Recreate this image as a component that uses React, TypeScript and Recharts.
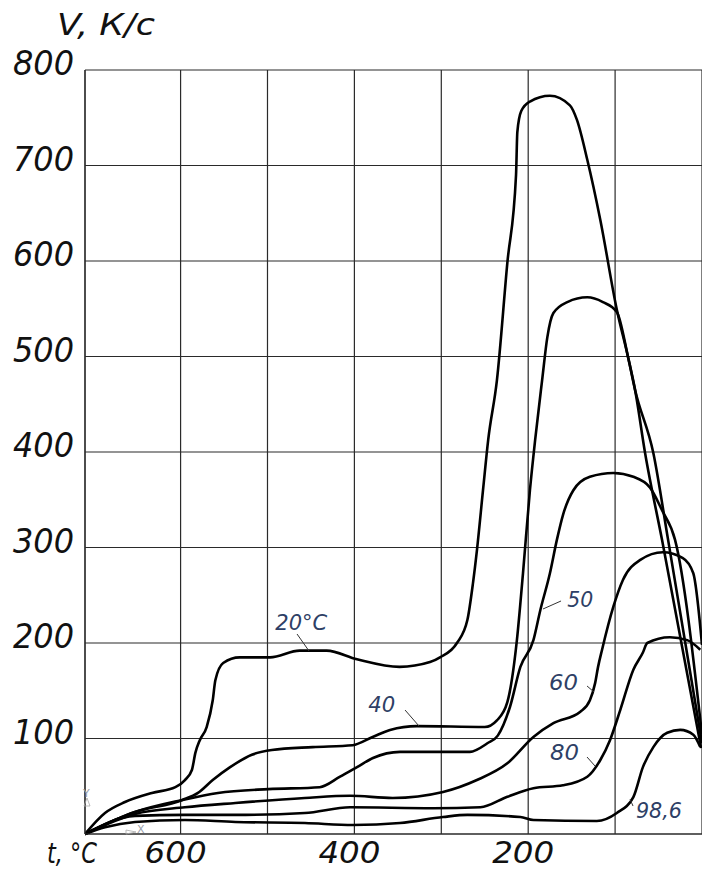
import { CartesianGrid, Line, LineChart, ReferenceDot, ReferenceLine, XAxis, YAxis } from 'recharts'

// cooling rate V (K/s) vs specimen temperature t (°C), one curve per quenchant temperature
type Pt = [number, number]

const curve20: Pt[] = [
  [710, 0], [687, 22], [664, 33.5], [633, 43], [606, 49], [595, 56.5], [587, 67], [583, 85], [578, 98],
  [570, 112], [563, 140], [560, 161], [551, 179], [532, 185], [497, 185], [463, 192], [432, 192],
  [397, 183], [348, 175], [313, 180], [301.5, 185], [282, 200], [270, 224], [263.5, 263], [259, 297],
  [252, 360], [246, 413], [236, 475], [224, 598], [214, 690], [212.5, 735], [208, 757], [198, 767],
  [175, 773], [152, 763], [144, 748], [132, 706], [117, 643], [98, 549], [85, 499], [77, 465],
  [65.5, 399], [46, 308], [1, 90],
]

const curve40: Pt[] = [
  [710, 0], [652.5, 23], [598, 35.6], [580, 43], [563, 56.5], [543, 70], [518, 83], [495, 88],
  [448, 91], [402, 93], [379, 101.6], [359, 109], [328, 113], [250, 112], [236, 119], [224, 138],
  [213, 203], [206, 273], [198, 360], [192, 412.6], [184, 475], [178, 520], [171, 545.5], [155, 557],
  [132, 562], [114, 557], [98, 546.6], [85, 499], [77, 465], [56, 399], [39, 308], [0, 95],
]

const curve50: Pt[] = [
  [710, 0], [652.5, 23], [598, 35.6], [557, 43], [499, 47], [440, 49], [416.5, 60], [397, 70],
  [378.6, 79.6], [347.5, 86], [267, 86], [247, 95], [235, 103], [221, 133], [209, 175], [194, 203],
  [186, 234.6], [175, 273], [167, 308], [160, 334], [148, 360], [129, 374], [102, 378], [79, 374],
  [60, 363], [46, 339], [31, 308], [0, 104],
]

const curve60: Pt[] = [
  [710, 0], [652.5, 21], [595, 28], [537, 32.5], [457, 37.7], [405, 40], [356, 37.7], [298, 44],
  [259, 56.5], [224, 74], [194, 101.6], [171, 116], [140, 128], [129, 140], [123, 158], [119.6, 175],
  [115, 193], [102, 238], [91, 266], [71, 287], [45, 295], [22, 289], [10, 273], [0, 198],
]

const curve80: Pt[] = [
  [710, 0], [652.5, 19], [595, 20], [537, 20], [457, 22], [405, 28], [309.5, 27], [255, 28], [224, 39],
  [194, 48], [160, 51], [132, 60], [117, 77.5], [106, 98], [94, 130], [79, 172], [68, 190], [63, 200],
  [37, 206], [17, 203], [2, 193],
]

const curve986: Pt[] = [
  [710, 0], [687, 7], [652.5, 12.6], [595, 14.7], [537, 12.6], [457, 11.5], [401.6, 9.4], [347.5, 11.5],
  [298, 17.8], [270, 20], [209, 17.8], [194, 14.7], [121, 13.6], [98, 22], [79, 38.7], [68, 70],
  [56, 91], [40, 106], [25, 109], [10, 104], [2, 91],
]

const CURVES = [curve20, curve40, curve50, curve60, curve80, curve986]

const X_TICKS = [100, 200, 300, 400, 500, 600]
const X_LABELLED = [600, 400, 200]
const Y_TICKS = [0, 100, 200, 300, 400, 500, 600, 700, 800]

// curve captions: text anchor (t, V) and leader line from/to
const CAPTIONS: { text: string; t: number; v: number; w: number; lead: [Pt, Pt] }[] = [
  { text: '20°C', t: 491, v: 214, w: 52, lead: [[466, 209.4], [452.2, 191.6]] },
  { text: '40', t: 384, v: 128, w: 27, lead: [[341.7, 129.8], [325.6, 113]] },
  { text: '50', t: 155, v: 238, w: 26, lead: [[162.2, 244], [183, 235.6]] },
  { text: '60', t: 176, v: 151, w: 29, lead: [[132.3, 155], [124.3, 148.7]] },
  { text: '80', t: 175, v: 77.5, w: 29, lead: [[132.3, 80.6], [123.1, 71.2]] },
  { text: '98,6', t: 76, v: 16.8, w: 46, lead: [[82.8, 36.6], [79.4, 29.3]] },
]

const FONT = 'DejaVu Sans'
const INK = '#111'
const CAPTION_INK = '#2e3f66'
const GRID = '#2a2a2a'

const YTick = (p: any) => {
  const v = p.payload.value
  if (v === 0) return <g />
  return (
    <text x={p.x - 11} y={p.y + 5} textAnchor="end" fontFamily={FONT} fontStyle="italic" fontSize={33}
      fill={INK} textLength={61} lengthAdjust="spacingAndGlyphs">
      {v}
    </text>
  )
}

const XTick = (p: any) => {
  const v = p.payload.value
  if (!X_LABELLED.includes(v)) return <g />
  return (
    <text x={p.x - 5} y={p.y + 29} textAnchor="middle" fontFamily={FONT} fontStyle="italic" fontSize={31}
      fill={INK} textLength={62} lengthAdjust="spacingAndGlyphs">
      {v}
    </text>
  )
}

export default function App() {
  const series = CURVES.map((c) => c.map(([t, v]) => ({ t, v })))

  return (
    <div style={{ position: 'absolute', left: 0, top: 0, width: 702, height: 872, background: '#fff' }}>
      <LineChart width={702} height={872} margin={{ top: 70, right: 0, bottom: 0, left: 0 }}>
        <CartesianGrid stroke={GRID} strokeWidth={1.2} />
        <XAxis
          type="number"
          dataKey="t"
          domain={[0, 710]}
          reversed
          ticks={X_TICKS}
          height={38}
          tickSize={0}
          tickMargin={0}
          tick={<XTick />}
          stroke={GRID}
          strokeWidth={1.2}
          allowDataOverflow
        />
        <YAxis
          type="number"
          domain={[0, 800]}
          ticks={Y_TICKS}
          width={85}
          tickSize={0}
          tickMargin={0}
          tick={<YTick />}
          stroke={GRID}
          strokeWidth={1.2}
        />
        {series.map((d, i) => (
          <Line
            key={i}
            data={d}
            dataKey="v"
            type="monotone"
            stroke="#000"
            strokeWidth={2.6}
            strokeLinejoin="round"
            dot={false}
            activeDot={false}
            isAnimationActive={false}
          />
        ))}
        {CAPTIONS.map((c) => (
          <ReferenceLine key={'l' + c.text} segment={[{ x: c.lead[0][0], y: c.lead[0][1] }, { x: c.lead[1][0], y: c.lead[1][1] }]}
            stroke="#333" strokeWidth={1} ifOverflow="visible" />
        ))}
        {CAPTIONS.map((c) => (
          <ReferenceDot
            key={'c' + c.text}
            x={c.t}
            y={c.v}
            r={0}
            ifOverflow="visible"
            shape={(p: any) => (
              <text x={p.cx} y={p.cy} fontFamily={FONT} fontStyle="italic" fontSize={22} fill={CAPTION_INK}
                textLength={c.w} lengthAdjust="spacingAndGlyphs">
                {c.text}
              </text>
            )}
          />
        ))}
      </LineChart>
      <svg width={702} height={872} style={{ position: 'absolute', left: 0, top: 0, pointerEvents: 'none' }}>
        <text x={57} y={35} fontFamily={FONT} fontStyle="italic" fontSize={30} fill={INK}
          textLength={98} lengthAdjust="spacingAndGlyphs">V, К/с</text>
        <text x={47} y={863} fontFamily={FONT} fontStyle="italic" fontSize={29} fill={INK}
          textLength={50} lengthAdjust="spacingAndGlyphs">t, °C</text>
        <text x={83} y={797} fontFamily={FONT} fontSize={11} fill="#9aa0aa">Y</text>
        <polygon points="87,798 84,806 90,806" fill="none" stroke="#aaa" strokeWidth={0.8} />
        <text x={137} y={833} fontFamily={FONT} fontSize={11} fill="#9aa0aa">X</text>
        <polygon points="126,830 136,832 126,834" fill="none" stroke="#aaa" strokeWidth={0.8} />
      </svg>
    </div>
  )
}
